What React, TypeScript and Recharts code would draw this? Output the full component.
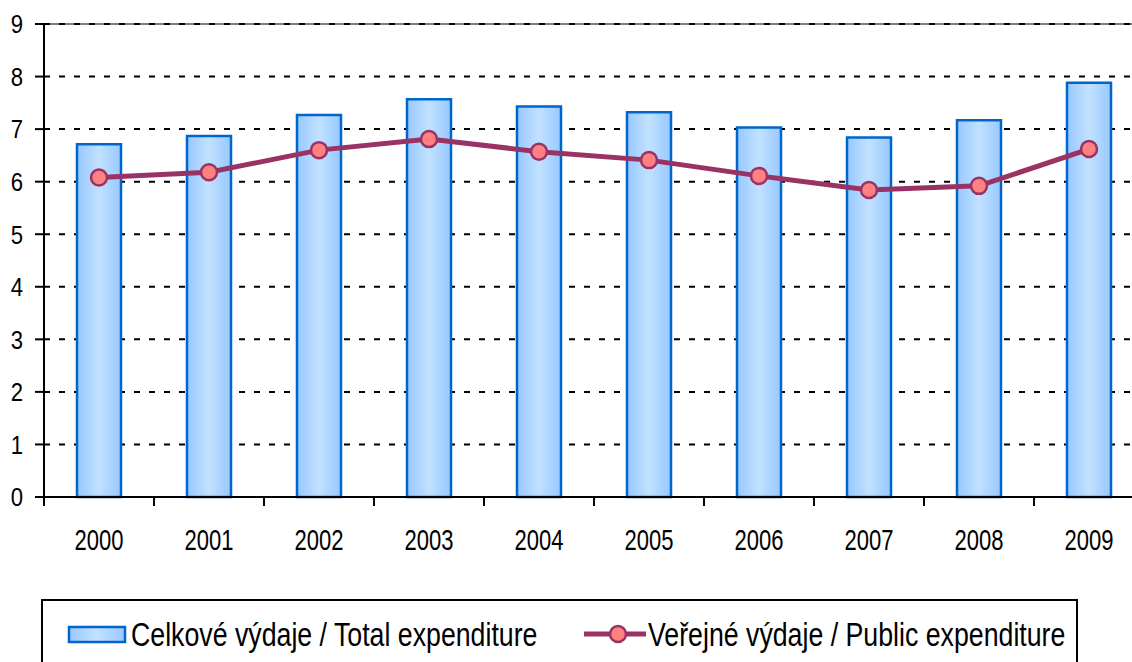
import React from 'react';
import {
  ComposedChart, Bar, Line, XAxis, YAxis, CartesianGrid, ReferenceLine, Legend,
} from 'recharts';

const years = ['2000', '2001', '2002', '2003', '2004', '2005', '2006', '2007', '2008', '2009'];
const totalExpenditure = [6.71, 6.87, 7.27, 7.57, 7.43, 7.32, 7.03, 6.84, 7.17, 7.88];
const publicExpenditure = [6.08, 6.18, 6.60, 6.81, 6.57, 6.41, 6.11, 5.84, 5.92, 6.62];
const yTicks = [0, 1, 2, 3, 4, 5, 6, 7, 8, 9];
const totalLabel = 'Celkové výdaje / Total expenditure';
const publicLabel = 'Veřejné výdaje / Public expenditure';

const data = years.map((y, i) => ({ year: y, total: totalExpenditure[i], pub: publicExpenditure[i] }));

const SANS = '"Liberation Sans", Arial, sans-serif';

const LINE_COLOR = '#993366';
const DOT_FILL = '#ff8080';
const BAR_STROKE = '#0066cc';

const XTick = (props: any) => {
  const { x, y, payload } = props;
  const edge = x - (payload.offset || 0);
  return (
    <g>
      <line x1={edge} x2={edge} y1={y} y2={y + 9} stroke="#000" strokeWidth={2} />
      <text
        transform={`translate(${x},${y + 53}) scale(0.76,1)`}
        textAnchor="middle"
        fill="#000"
        fontSize={29}
        fontFamily={SANS}
      >
        {payload.value}
      </text>
    </g>
  );
};

const YTick = (props: any) => {
  const { x, y, payload } = props;
  return (
    <text
      transform={`translate(${x},${y}) scale(0.85,1)`}
      dy="0.36em"
      textAnchor="end"
      fill="#000"
      fontSize={26}
      fontFamily={SANS}
    >
      {payload.value}
    </text>
  );
};

const renderLegend = () => (
  <div style={{ border: '2px solid #000', height: 90, boxSizing: 'border-box', background: '#fff' }}>
    <svg width={1033} height={86} style={{ display: 'block' }}>
      <defs>
        <linearGradient id="legGrad" x1="0" y1="0" x2="1" y2="0">
          <stop offset="0%" stopColor="#99c9ff" />
          <stop offset="50%" stopColor="#c2e1ff" />
          <stop offset="100%" stopColor="#99c9ff" />
        </linearGradient>
      </defs>
      <rect x={26} y={26} width={56} height={15} fill="url(#legGrad)" stroke={BAR_STROKE} strokeWidth={2.5} />
      <text transform="translate(88,45) scale(0.81,1)" fontSize={33} fontFamily={SANS} fill="#000">
        {totalLabel}
      </text>
      <line x1={541} y1={33} x2={603} y2={33} stroke={LINE_COLOR} strokeWidth={5} />
      <circle cx={575} cy={33} r={8} fill={DOT_FILL} stroke={LINE_COLOR} strokeWidth={2.5} />
      <text transform="translate(605,45) scale(0.81,1)" fontSize={33} fontFamily={SANS} fill="#000">
        {publicLabel}
      </text>
    </svg>
  </div>
);

export default function App() {
  return (
    <div style={{ position: 'absolute', left: 0, top: 0, width: 1132, height: 662, overflow: 'hidden', background: '#fff' }}>
      <ComposedChart
        width={1160}
        height={662}
        data={data}
        margin={{ top: 24, right: 16, left: 0, bottom: 105 }}
        barCategoryGap="30%"
      >
        <defs>
          <linearGradient id="barGrad" x1="0" y1="0" x2="1" y2="0">
            <stop offset="0%" stopColor="#96c8ff" />
            <stop offset="50%" stopColor="#c2e1ff" />
            <stop offset="100%" stopColor="#96c8ff" />
          </linearGradient>
        </defs>
        <CartesianGrid vertical={false} stroke="#000" strokeWidth={2} strokeDasharray="6 9" />
        <ReferenceLine y={9} stroke="#808080" strokeWidth={2} />
        <ReferenceLine y={9} stroke="#000" strokeWidth={2} strokeDasharray="6 9" />
        <XAxis
          dataKey="year"
          height={60}
          interval={0}
          axisLine={{ stroke: '#000', strokeWidth: 2 }}
          tickLine={false}
          tickSize={0}
          tickMargin={0}
          tick={<XTick />}
        />
        <YAxis
          domain={[0, 9]}
          ticks={yTicks}
          width={44}
          interval={0}
          axisLine={{ stroke: '#000', strokeWidth: 2 }}
          tickLine={{ stroke: '#000', strokeWidth: 2 }}
          tickSize={9}
          tickMargin={12}
          tick={<YTick />}
        />
        <Bar
          dataKey="total"
          name={totalLabel}
          fill="url(#barGrad)"
          stroke={BAR_STROKE}
          strokeWidth={2.5}
          isAnimationActive={false}
        />
        <Line
          dataKey="pub"
          name={publicLabel}
          stroke={LINE_COLOR}
          strokeWidth={5}
          dot={{ r: 8, fill: DOT_FILL, stroke: LINE_COLOR, strokeWidth: 2.5 }}
          activeDot={false}
          isAnimationActive={false}
        />
        <Legend
          layout="horizontal"
          verticalAlign="middle"
          content={renderLegend}
          wrapperStyle={{ position: 'absolute', left: 41, top: 599, width: 1037, height: 90 }}
        />
      </ComposedChart>
    </div>
  );
}
